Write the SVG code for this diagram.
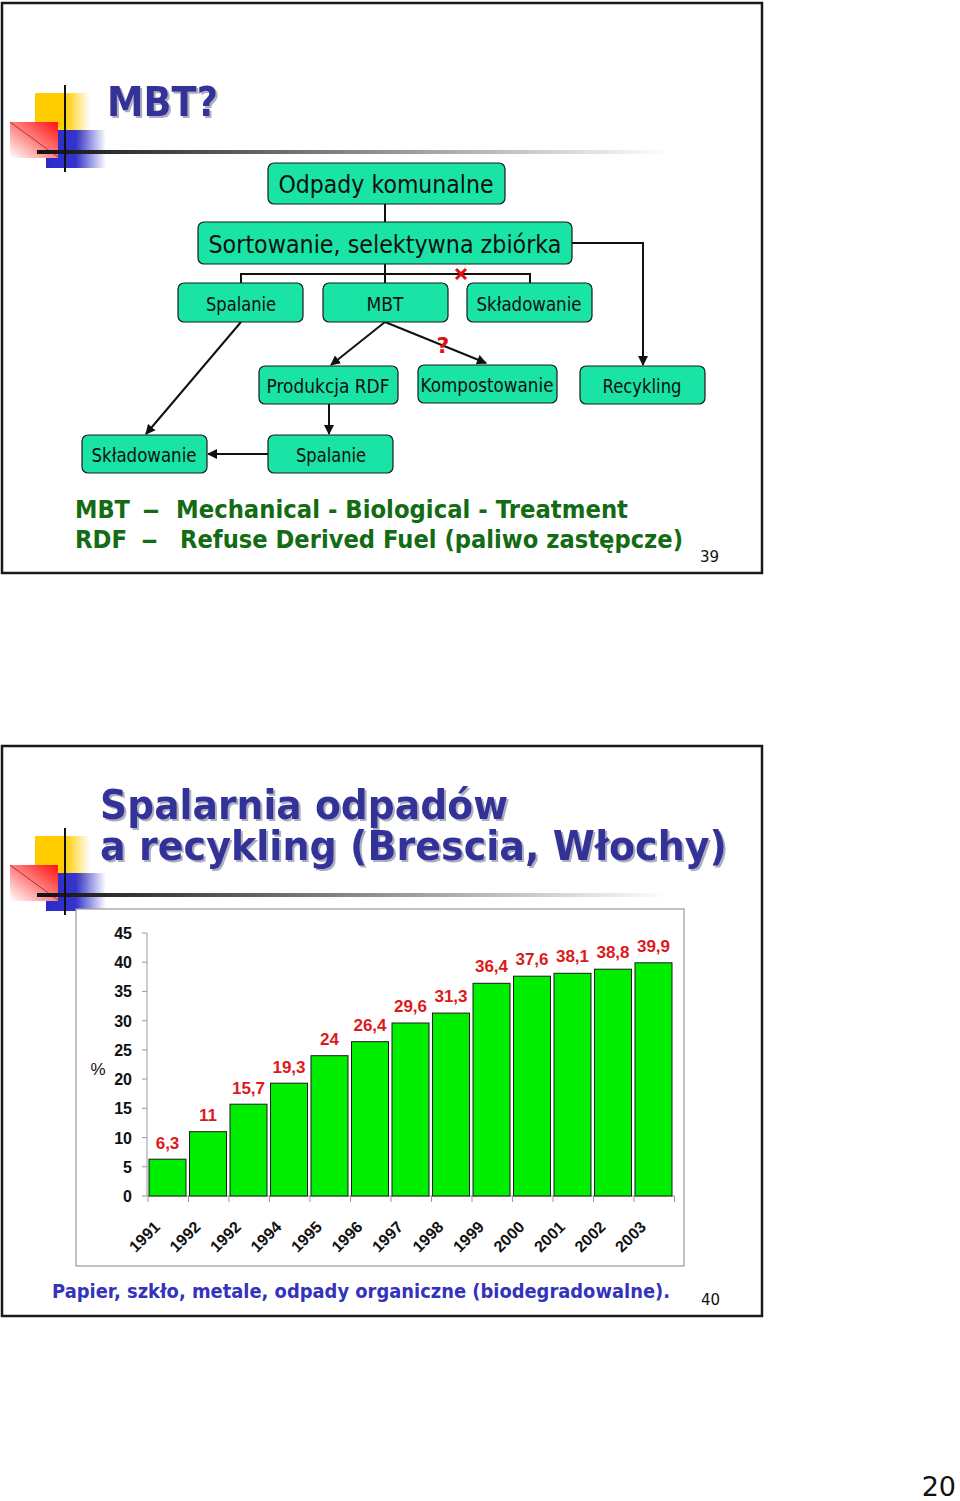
<svg xmlns="http://www.w3.org/2000/svg" width="960" height="1501" viewBox="0 0 960 1501">
<defs>
<linearGradient id="gY" x1="0" y1="0" x2="1" y2="0"><stop offset="0" stop-color="#ffcc00"/><stop offset="0.55" stop-color="#ffcc00"/><stop offset="1" stop-color="#ffcc00" stop-opacity="0"/></linearGradient>
<linearGradient id="gB" x1="0" y1="0" x2="1" y2="0"><stop offset="0" stop-color="#2a2acc"/><stop offset="0.5" stop-color="#3535cc"/><stop offset="1" stop-color="#3535cc" stop-opacity="0"/></linearGradient>
<linearGradient id="gR" x1="1" y1="0" x2="0" y2="1"><stop offset="0" stop-color="#ff1010"/><stop offset="0.5" stop-color="#ff8080"/><stop offset="1" stop-color="#ffffff"/></linearGradient>
<linearGradient id="gL" x1="0" y1="0" x2="1" y2="0"><stop offset="0" stop-color="#111"/><stop offset="0.5" stop-color="#888"/><stop offset="1" stop-color="#fff"/></linearGradient>
<filter id="sh" x="-5%" y="-20%" width="110%" height="140%"><feDropShadow dx="2" dy="2" stdDeviation="0.6" flood-color="#9a9ab0" flood-opacity="0.8"/></filter>
<marker id="ar" viewBox="0 0 10 10" refX="9" refY="5" markerWidth="5" markerHeight="5" orient="auto"><path d="M0,0 L10,5 L0,10 z" fill="#111"/></marker>
<g id="logo">
<rect x="35" y="93" width="55" height="50" fill="url(#gY)"/>
<rect x="46" y="130" width="60" height="38" fill="url(#gB)"/>
<rect x="10" y="122" width="48" height="36" fill="url(#gR)"/>
<line x1="10" y1="122" x2="58" y2="157" stroke="#b03030" stroke-width="1"/>
<rect x="37" y="150" width="633" height="4" fill="url(#gL)"/>
<line x1="65" y1="85" x2="65" y2="172" stroke="#111" stroke-width="2"/>
</g>
</defs>
<style>
.frame{fill:#fff;stroke:#1a1a1a;stroke-width:2.5}
.box{fill:#19e3a5;stroke:#1a1a1a;stroke-width:1.2}
.bt{font-family:"DejaVu Sans",sans-serif;fill:#111;text-anchor:middle}
.con{stroke:#111;stroke-width:2;fill:none}
.title{font-family:"DejaVu Sans",sans-serif;font-weight:bold;fill:#333399;filter:url(#sh)}
.gt{font-family:"DejaVu Sans",sans-serif;font-weight:bold;fill:#136b13;font-size:25px}
.pn{font-family:"DejaVu Sans",sans-serif;fill:#111;font-size:15px}
.ax{font-family:"Liberation Sans",Arial,sans-serif;font-weight:bold;fill:#111;font-size:16px;text-anchor:end}
.vl{font-family:"Liberation Sans",Arial,sans-serif;font-weight:bold;fill:#dd1a1a;font-size:17px;text-anchor:middle}
.yr{font-family:"Liberation Sans",Arial,sans-serif;font-weight:bold;fill:#111;font-size:16px;text-anchor:end}
.bar{fill:#00ee00;stroke:#1a1a1a;stroke-width:1}
</style>
<rect width="960" height="1501" fill="#fff"/>

<!-- Slide 1 -->
<g id="slide1">
<rect class="frame" x="2" y="3" width="760" height="570"/>
<use href="#logo"/>
<text class="title" x="107" y="116" font-size="40" textLength="111" lengthAdjust="spacingAndGlyphs">MBT?</text>
</g>

<g id="connectors">
<line class="con" x1="385" y1="204" x2="385" y2="222"/>
<line class="con" x1="385" y1="264" x2="385" y2="283"/>
<polyline class="con" points="241,283 241,274 530,274 530,283"/>
<polyline class="con" points="572,243 643,243 643,365" marker-end="url(#ar)"/>
<line class="con" x1="241" y1="322" x2="146" y2="434" marker-end="url(#ar)"/>
<line class="con" x1="385" y1="322" x2="331" y2="365" marker-end="url(#ar)"/>
<line class="con" x1="385" y1="322" x2="486" y2="363" marker-end="url(#ar)"/>
<line class="con" x1="329" y1="404" x2="329" y2="434" marker-end="url(#ar)"/>
<line class="con" x1="268" y1="454" x2="208" y2="454" marker-end="url(#ar)"/>
<path d="M456,269 L466,279 M466,269 L456,279" stroke="#e01010" stroke-width="3"/>
<text x="443" y="353" font-family="DejaVu Sans,sans-serif" font-weight="bold" font-size="22" fill="#e01010" text-anchor="middle">?</text>
</g>

<g id="n-odpady"><rect class="box" x="268" y="163" width="237" height="41" rx="6"/><text class="bt" x="386" y="193" font-size="25" textLength="215" lengthAdjust="spacingAndGlyphs">Odpady komunalne</text></g>
<g id="n-sort"><rect class="box" x="198" y="222" width="374" height="42" rx="6"/><text class="bt" x="385" y="253" font-size="24" textLength="353" lengthAdjust="spacingAndGlyphs">Sortowanie, selektywna zbiórka</text></g>
<g id="n-spal1"><rect class="box" x="178" y="283" width="125" height="39" rx="6"/><text class="bt" x="241" y="311" font-size="19" textLength="70" lengthAdjust="spacingAndGlyphs">Spalanie</text></g>
<g id="n-mbt"><rect class="box" x="323" y="283" width="125" height="39" rx="6"/><text class="bt" x="385" y="311" font-size="19" textLength="37" lengthAdjust="spacingAndGlyphs">MBT</text></g>
<g id="n-skl1"><rect class="box" x="467" y="283" width="125" height="39" rx="6"/><text class="bt" x="529" y="311" font-size="19" textLength="105" lengthAdjust="spacingAndGlyphs">Składowanie</text></g>
<g id="n-rdf"><rect class="box" x="259" y="366" width="139" height="38" rx="6"/><text class="bt" x="328" y="393" font-size="19" textLength="123" lengthAdjust="spacingAndGlyphs">Produkcja RDF</text></g>
<g id="n-komp"><rect class="box" x="418" y="365" width="139" height="38" rx="6"/><text class="bt" x="487" y="392" font-size="19" textLength="133" lengthAdjust="spacingAndGlyphs">Kompostowanie</text></g>
<g id="n-recy"><rect class="box" x="580" y="366" width="125" height="38" rx="6"/><text class="bt" x="642" y="393" font-size="19" textLength="79" lengthAdjust="spacingAndGlyphs">Recykling</text></g>
<g id="n-skl2"><rect class="box" x="82" y="435" width="125" height="38" rx="6"/><text class="bt" x="144" y="462" font-size="19" textLength="105" lengthAdjust="spacingAndGlyphs">Składowanie</text></g>
<g id="n-spal2"><rect class="box" x="268" y="435" width="125" height="38" rx="6"/><text class="bt" x="331" y="462" font-size="19" textLength="70" lengthAdjust="spacingAndGlyphs">Spalanie</text></g>

<g id="legend1">
<text class="gt" x="75" y="518" textLength="55" lengthAdjust="spacingAndGlyphs">MBT</text>
<text class="gt" x="142" y="518" textLength="18" lengthAdjust="spacingAndGlyphs">–</text>
<text class="gt" x="176" y="518" textLength="452" lengthAdjust="spacingAndGlyphs">Mechanical - Biological - Treatment</text>
<text class="gt" x="75" y="548" textLength="52" lengthAdjust="spacingAndGlyphs">RDF</text>
<text class="gt" x="141" y="548" textLength="17" lengthAdjust="spacingAndGlyphs">–</text>
<text class="gt" x="180" y="548" textLength="503" lengthAdjust="spacingAndGlyphs">Refuse Derived Fuel (paliwo zastępcze)</text>
<text class="pn" x="700" y="562">39</text>
</g>

<!-- Slide 2 -->
<g id="slide2">
<rect class="frame" x="2" y="746" width="760" height="570"/>
<use href="#logo" transform="translate(0,743)"/>
<text class="title" x="100" y="819" font-size="41" textLength="408" lengthAdjust="spacingAndGlyphs">Spalarnia odpadów</text>
<text class="title" x="100" y="860" font-size="41" textLength="627" lengthAdjust="spacingAndGlyphs">a recykling (Brescia, Włochy)</text>
</g>

<g id="chart">
<rect x="76" y="909" width="608" height="357" fill="#fff" stroke="#999" stroke-width="1.2"/>
<g stroke="#999" stroke-width="1">
<line x1="147" y1="933" x2="147" y2="1196"/>
<line x1="147" y1="1196" x2="675" y2="1196"/>
<path d="M142,933H147M142,962.2H147M142,991.4H147M142,1020.7H147M142,1049.9H147M142,1079.1H147M142,1108.3H147M142,1137.6H147M142,1166.8H147M142,1196H147"/>
<path d="M148,1196V1202M188.5,1196V1202M229,1196V1202M269.5,1196V1202M310,1196V1202M350.5,1196V1202M391,1196V1202M431.5,1196V1202M472,1196V1202M512.5,1196V1202M553,1196V1202M593.5,1196V1202M634,1196V1202M674.5,1196V1202"/>
</g>
<text class="ax" x="132" y="939">45</text>
<text class="ax" x="132" y="968">40</text>
<text class="ax" x="132" y="997">35</text>
<text class="ax" x="132" y="1027">30</text>
<text class="ax" x="132" y="1056">25</text>
<text class="ax" x="132" y="1085">20</text>
<text class="ax" x="132" y="1114">15</text>
<text class="ax" x="132" y="1144">10</text>
<text class="ax" x="132" y="1173">5</text>
<text class="ax" x="132" y="1202">0</text>
<text x="98" y="1075" font-family="Liberation Sans,Arial,sans-serif" font-size="17" fill="#111" text-anchor="middle">%</text>
<rect class="bar" x="149" y="1159.2" width="37" height="36.8"/>
<rect class="bar" x="189.5" y="1131.7" width="37" height="64.3"/>
<rect class="bar" x="230" y="1104.2" width="37" height="91.8"/>
<rect class="bar" x="270.5" y="1083.2" width="37" height="112.8"/>
<rect class="bar" x="311" y="1055.7" width="37" height="140.3"/>
<rect class="bar" x="351.5" y="1041.7" width="37" height="154.3"/>
<rect class="bar" x="392" y="1023" width="37" height="173"/>
<rect class="bar" x="432.5" y="1013.1" width="37" height="182.9"/>
<rect class="bar" x="473" y="983.3" width="37" height="212.7"/>
<rect class="bar" x="513.5" y="976.2" width="37" height="219.8"/>
<rect class="bar" x="554" y="973.3" width="37" height="222.7"/>
<rect class="bar" x="594.5" y="969.2" width="37" height="226.8"/>
<rect class="bar" x="635" y="962.8" width="37" height="233.2"/>
<text class="vl" x="167.5" y="1149">6,3</text>
<text class="vl" x="208" y="1121">11</text>
<text class="vl" x="248.5" y="1094">15,7</text>
<text class="vl" x="289" y="1073">19,3</text>
<text class="vl" x="329.5" y="1045">24</text>
<text class="vl" x="370" y="1031">26,4</text>
<text class="vl" x="410.5" y="1012">29,6</text>
<text class="vl" x="451" y="1002">31,3</text>
<text class="vl" x="491.5" y="972">36,4</text>
<text class="vl" x="532" y="965">37,6</text>
<text class="vl" x="572.5" y="962">38,1</text>
<text class="vl" x="613" y="958">38,8</text>
<text class="vl" x="653.5" y="952">39,9</text>
<text class="yr" transform="translate(161,1228) rotate(-45)">1991</text>
<text class="yr" transform="translate(201.5,1228) rotate(-45)">1992</text>
<text class="yr" transform="translate(242,1228) rotate(-45)">1992</text>
<text class="yr" transform="translate(282.5,1228) rotate(-45)">1994</text>
<text class="yr" transform="translate(323,1228) rotate(-45)">1995</text>
<text class="yr" transform="translate(363.5,1228) rotate(-45)">1996</text>
<text class="yr" transform="translate(404,1228) rotate(-45)">1997</text>
<text class="yr" transform="translate(444.5,1228) rotate(-45)">1998</text>
<text class="yr" transform="translate(485,1228) rotate(-45)">1999</text>
<text class="yr" transform="translate(525.5,1228) rotate(-45)">2000</text>
<text class="yr" transform="translate(566,1228) rotate(-45)">2001</text>
<text class="yr" transform="translate(606.5,1228) rotate(-45)">2002</text>
<text class="yr" transform="translate(647,1228) rotate(-45)">2003</text>
</g>

<g id="footer2">
<text x="52" y="1298" font-family="DejaVu Sans,sans-serif" font-weight="bold" font-size="19" fill="#3333bb" textLength="618" lengthAdjust="spacingAndGlyphs">Papier, szkło, metale, odpady organiczne (biodegradowalne).</text>
<text class="pn" x="701" y="1305">40</text>
</g>

<text x="956" y="1496" font-family="DejaVu Sans,sans-serif" font-size="27" fill="#111" text-anchor="end">20</text>
</svg>
